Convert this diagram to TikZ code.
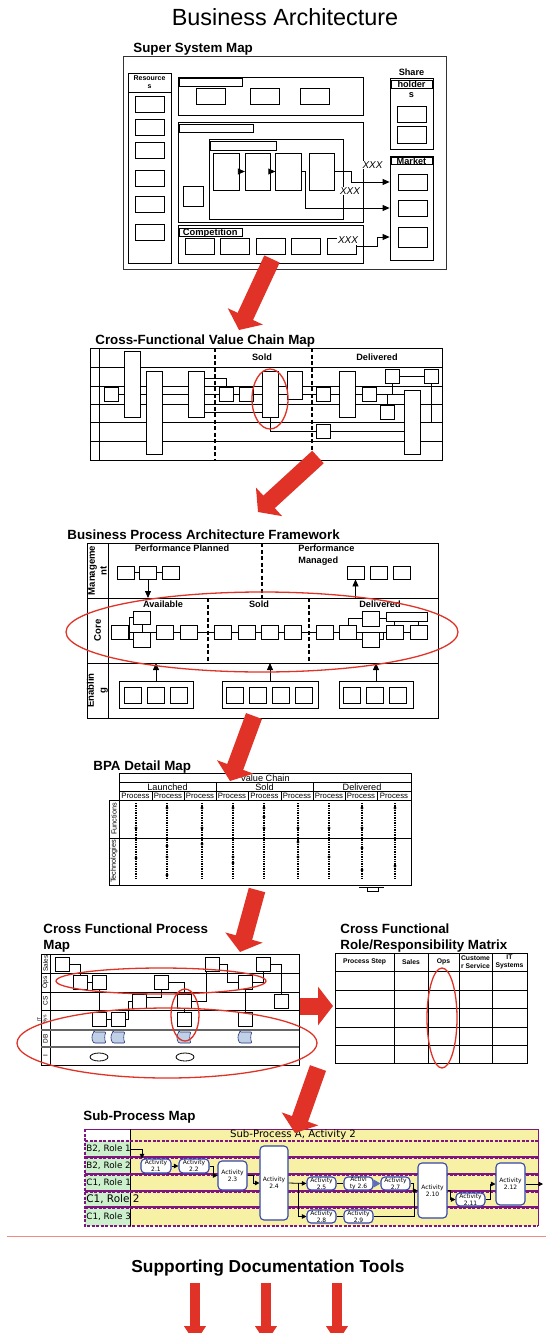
\documentclass[tikz,border=0pt]{standalone}
\usepackage{fontspec}
\setmainfont{Liberation Sans}
\newfontfamily\verdana{DejaVu Sans}
\usetikzlibrary{arrows.meta, positioning, backgrounds}

\definecolor{bigred}{RGB}{224,50,38}
\definecolor{lanepurple}{RGB}{128,20,128}
\definecolor{laneyellow}{RGB}{247,241,166}
\definecolor{rolegreen}{RGB}{204,240,204}
\definecolor{actblue}{RGB}{52,72,170}
\definecolor{dbblue}{RGB}{192,208,230}
\definecolor{rulepink}{RGB}{240,140,130}

\begin{document}
\begin{tikzpicture}[
        x=1bp, y=-1bp,
        line width=0.8bp,
        bx/.style args={#1x#2}{draw, fill=white, inner sep=0pt, minimum width=#1bp, minimum height=#2bp},
        maptitle/.style={font=\bfseries\fontsize{13.4}{15.5}\selectfont, inner sep=0pt, anchor=base west},
        tag/.style={font=\bfseries\fontsize{9.2}{12}\selectfont, inner sep=0pt},
        lbl/.style={font=\fontsize{9.2}{10}\selectfont, inner sep=0pt},
        xxx/.style={font=\itshape\fontsize{10}{10}\selectfont, fill=white, inner sep=0.6bp},
        lane/.style={font=\bfseries\fontsize{9.6}{12}\selectfont, inner sep=0pt, rotate=90, align=center},
        ring/.style={draw=bigred, line width=1.3bp},
        bigarrow/.style={bigred, line width=17bp, -{Triangle[width=38bp, length=15bp]}},
        arr/.style={-{Triangle[length=7bp, width=6bp]}},
        sarr/.style={-{Triangle[length=4.5bp, width=4.5bp]}},
        divider/.style={line width=1.3bp, dash pattern=on 4bp off 2.5bp},
        chainline/.style={line width=1.6bp, dash pattern=on 1bp off 0.7bp},
        act/.style args={#1x#2}{draw=actblue, fill=white, rounded corners=4bp, line width=1.1bp, inner sep=0pt, minimum width=#1bp, minimum height=#2bp, font=\verdana\fontsize{6}{7}\selectfont, align=center},
        role/.style={font=\verdana\fontsize{8.8}{9}\selectfont, inner sep=0pt, anchor=west}
    ]
    \useasboundingbox (0,0) rectangle (546,1333);

    \node[font=\fontsize{23.5}{28}\selectfont, anchor=base] (title) at (285,26) {Business Architecture};

    % super system map
    \node[maptitle] (ssmtitle) at (133,53) {Super System Map};
    \draw[line width=0.9bp, black!80] (123,56) rectangle (446,269);
    \draw (128,73) rectangle (171,263);
    \node[bx=43x19, font=\bfseries\fontsize{7}{8}\selectfont, align=center] (res) at (149.5,82.5) {Resource\\s};
    \foreach \y [count=\i] in {104,127.5,150,178.5,204,232}
        \node[bx=29x16] (ssr\i) at (149.5,\y) {};
    \draw (178,77) rectangle (363,115);
    \node[bx=63x8, anchor=north west] (toptag) at (179,78) {};
    \foreach \x [count=\i] in {210.5,264.5,314.5}
        \node[bx=29x16] (sst\i) at (\x,96) {};
    \draw (178,122) rectangle (363,222);
    \node[bx=74x8, anchor=north west] (midtag) at (179,124) {};
    \draw (209,139) rectangle (343,219);
    \node[bx=66x9, anchor=north west] (innertag) at (210,141) {};
    \node[bx=20x20] (ssbox) at (193,196) {};
    \foreach \x [count=\i] in {226.5,258,288.5,322}
        \node[bx=25.5x37] (ssp\i) at (\x,171.5) {};
    \draw[arr] (ssp1) -- (ssp2);
    \draw[arr] (ssp2) -- (ssp3);
    \draw (178,225) rectangle (363,263);
    \node[bx=63x8, anchor=north west] (comptag) at (179,228) {};
    \node[font=\bfseries\fontsize{9.4}{9.4}\selectfont, inner sep=0pt, anchor=base west] (complbl) at (182.5,235.6) {Competition};
    \foreach \x [count=\i] in {199.5,234.5,270.5,305.5,341.5}
        \node[bx=29x16] (ssc\i) at (\x,246) {};
    \draw (390,78) rectangle (433,149);
    \node[bx=41x8, anchor=north west] (shtag) at (391,80) {};
    \node[tag, anchor=base] (share) at (411.5,75.5) {Share};
    \node[tag, anchor=base] (holder) at (411.5,87.3) {holder};
    \node[tag, anchor=base] (shs) at (411.5,98) {s};
    \node[bx=29x16] (sh1) at (411.5,114) {};
    \node[bx=29x17] (sh2) at (411.5,134.5) {};
    \draw (390,156) rectangle (433,260);
    \node[bx=41x7, anchor=north west] (mkttag) at (391,157) {};
    \node[tag, anchor=base] (mktlbl) at (411.5,164.3) {Market};
    \node[bx=29x16] (mk1) at (412.5,182) {};
    \node[bx=29x16] (mk2) at (412.5,208) {};
    \node[bx=29x20] (mk3) at (412.5,237) {};
    \draw[arr, shorten >=8bp] (ssp4.east) -- ++(16,0) |- (mk1.west);
    \draw[arr, shorten >=8bp] (ssp3.east) -- ++(4,0) |- (mk2.west);
    \draw[arr, shorten >=8bp] (ssc5.east) -- ++(21,0) |- (mk3.west);
    \node[xxx] (xxx1) at (372.5,165) {XXX};
    \node[xxx] (xxx2) at (350,191) {XXX};
    \node[xxx] (xxx3) at (348,240.5) {XXX};

    % value chain map
    \node[maptitle] (vctitle) at (95,344) {Cross-Functional Value Chain Map};
    \draw (90,348) rectangle (442,460);
    \foreach \y in {367,386,404,422,441}
        \draw (90,\y) -- (442,\y);
    \draw (99,348) -- (99,460);
    \draw[divider] (215,348) -- (215,460);
    \draw[divider] (312,348) -- (312,460);
    \node[tag, anchor=base] (vcsold) at (262,360) {Sold};
    \node[tag, anchor=base] (vcdel) at (377,360) {Delivered};
    \node[bx=14x14] (vc1) at (111,394) {};
    \node[bx=16x66] (vc2) at (132,384) {};
    \node[bx=16x83] (vc3) at (154,412.5) {};
    \node[bx=16x46] (vc4) at (196,394) {};
    \node[bx=14x14] (vc5) at (226,394) {};
    \node[bx=14x14] (vc6) at (246.5,394) {};
    \node[bx=16x46] (vc7) at (270,394) {};
    \node[bx=15x28] (vc8) at (294.5,385) {};
    \node[bx=14x14] (vc9) at (323.5,394) {};
    \node[bx=16x46] (vc10) at (347,394) {};
    \node[bx=14x14] (vc11) at (369.5,394) {};
    \node[bx=14x14] (vc12) at (392.5,376) {};
    \node[bx=14x14] (vc13) at (431,376) {};
    \node[bx=14x14] (vc14) at (387.5,412.5) {};
    \node[bx=14x14] (vc15) at (323.5,431) {};
    \node[bx=16x64] (vc16) at (412,422) {};
    \begin{scope}[on background layer]
        \draw (vc1.east) -- (vc1.east -| vc16.west);
    \end{scope}
    \draw ([yshift=16bp]vc4.east) -| (vc5.north);
    \draw ([yshift=-18bp]vc4.east) -- ([yshift=-18bp]vc7.west);
    \draw (vc7.south) |- (vc15.west);
    \draw (vc15.east) -- (vc15.east -| vc16.west);
    \draw (vc12.east) -- (vc13.west);
    \draw (vc12.south) -- (vc12.south |- vc11.east);
    \draw (vc14.north) -- (vc14.north |- vc11.east);
    \draw (vc13.south) |- (vc16.east);
    \draw[ring] (270,399) ellipse [x radius=18, y radius=30];

    % business process architecture framework
    \node[maptitle] (bpatitle) at (67,539) {Business Process Architecture Framework};
    \draw (87,543) rectangle (438,718);
    \draw (108,543) -- (108,718);
    \draw (87,598) -- (438,598);
    \draw (87,663) -- (438,663);
    \node[lane] (mgmtlane) at (97.5,570.5) {Manageme\\nt};
    \node[lane] (corelane) at (97.5,630.5) {Core};
    \node[lane] (enablane) at (97.5,690.5) {Enablin\\g};
    \draw[divider] (262,543) -- (262,598);
    \draw[divider] (208,598) -- (208,663);
    \draw[divider] (309,598) -- (309,663);
    \node[tag, anchor=base] (ppl) at (182,551) {Performance Planned};
    \node[tag, anchor=north west, align=left] (pma) at (298,544) {Performance\\Managed};
    \foreach \x [count=\i] in {125.5,148,170.5,355.5,378.5,402}
        \node[bx=17x13] (mg\i) at (\x,572.5) {};
    \draw (mg1) -- (mg2);
    \draw (mg2) -- (mg3);
    \coordinate (mgdown) at (148,598);
    \coordinate (mgup) at (355.5,598);
    \draw[arr] (mg2) -- (mgdown);
    \draw[arr] (mgup) -- (mg4);
    \node[tag, anchor=base] (avail) at (163,607.5) {Available};
    \node[tag, anchor=base] (coresold) at (259,607.5) {Sold};
    \node[tag, anchor=base] (coredel) at (380,607.5) {Delivered};
    \foreach \x [count=\i] in {119.5,165,188.5,223,246.5,269.5,292.5,324.5,348,394.5,418.5}
        \node[bx=17x14] (cr\i) at (\x,632) {};
    \node[bx=17x13] (crA) at (142,617.5) {};
    \node[bx=17x15] (crB) at (142,639.5) {};
    \node[bx=17x15] (crC) at (370.5,618.5) {};
    \node[bx=17x15] (crD) at (370.5,639.5) {};
    \node[bx=41x9] (crE) at (406.5,616.5) {};
    \begin{scope}[on background layer]
        \draw (cr1.east) -- (cr1.east -| cr11.west);
    \end{scope}
    \draw (crA.west) -- ++(-3.5,0) |- (crB.west);
    \draw (crA.south) -- (crB.north);
    \draw (cr9.north) |- (crC.west);
    \draw (cr9.south) |- (crD.west);
    \draw (crC.east) -- (crC.east -| crE.west);
    \draw (crD.east) -- ++(4,0) |- (cr10.west);
    \draw (cr10.north) -- (cr10.north |- crE.south);
    \draw (cr11.north) -- (cr11.north |- crE.south);
    \node[bx=74x27] (en1) at (156,694.5) {};
    \node[bx=96x27] (en2) at (270,694.5) {};
    \node[bx=74x27] (en3) at (376,694.5) {};
    \foreach \x [count=\i] in {133,156,179,234.5,257.5,280.5,303.5,352,375,398}
        \node[bx=17x16] (enb\i) at (\x,695) {};
    \coordinate (enrow) at (0,663);
    \foreach \i in {1,2,3}
        \draw[arr] (en\i.north) -- (en\i.north |- enrow);
    \draw[ring] (262,632) ellipse [x radius=196, y radius=40];

    % BPA detail map
    \node[maptitle] (dettitle) at (93,770) {BPA Detail Map};
    \draw (119,773) rectangle (411,800);
    \draw (119,782) -- (411,782);
    \draw (119,791) -- (411,791);
    \draw (109,800) rectangle (411,885);
    \draw (119,800) -- (119,885);
    \draw (109,838) -- (411,838);
    \draw (216,782) -- (216,791);
    \draw (313,782) -- (313,791);
    \foreach \x in {152,184,216,248,281,313,345,377}
        \draw (\x,791) -- (\x,800);
    \node[lbl, anchor=base] (vchain) at (265,781) {Value Chain};
    \node[lbl, anchor=base] (launched) at (167.5,790) {Launched};
    \node[lbl, anchor=base] (detsold) at (264.5,790) {Sold};
    \node[lbl, anchor=base] (detdel) at (362,790) {Delivered};
    \foreach \x [count=\i] in {135.5,168,200,232,264.5,297,329,361,394}
        \node[font=\fontsize{7.8}{8}\selectfont, inner sep=0pt, anchor=base] (proc\i) at (\x,798.5) {Process};
    \node[font=\fontsize{7.3}{8}\selectfont, inner sep=0pt, rotate=90] (funclbl) at (114,819) {Functions};
    \node[font=\fontsize{7.3}{8}\selectfont, inner sep=0pt, rotate=90] (techlbl) at (114,861.5) {Technologies};
    \foreach \x in {136,167,202,233,264,298,329,362,395}
        \draw[chainline] (\x,803) -- (\x,878);
    \foreach \x/\y in {136/828,136/858,167/808,167/846,167/857,167/875,202/808,202/828,202/844,233/808,233/857,233/863,264/808,264/817,264/828,298/828,298/842,298/857,329/828,329/857,362/808,362/828,362/848,362/870,395/808,395/866}
        \fill (\x,\y) circle [radius=1.6];
    \draw (359,887) -- (384,887);
    \draw (367,887) |- (378,891) -- (378,887);

    % cross functional process map
    \node[maptitle, anchor=north west, align=left] (cfpmtitle) at (43,923.5) {Cross Functional Process\\Map};
    \draw (41,954) rectangle (299,1065);
    \draw (50,954) -- (50,1065);
    \foreach \y in {973,992,1010}
        \draw (41,\y) -- (299,\y);
    \foreach \y in {1030,1047}
        \draw[line width=1.4bp, black!60] (41,\y) -- (299,\y);
    \foreach \y/\t [count=\i] in {963.5/Sales,982.5/Ops,1001/CS,1038.5/DB,1056/I}
        \node[font=\fontsize{6.5}{7}\selectfont, inner sep=0pt, rotate=90] (cfl\i) at (45.5,\y) {\t};
    \node[font=\fontsize{5}{5.5}\selectfont, inner sep=0pt, rotate=90, align=center] (cfit) at (42.5,1019.5) {IT\\Sys};
    \foreach \n/\x/\y in {sa1/62/964,sa2/212/964,sa3/263/964,op1/80/982.5,op2/99/982.5,op3/161/982.5,op4/245/982.5,cs1/139/1001,cs2/184/1001,cs3/281/1001,it1/99/1019.5,it2/118/1019.5,it3/184/1019.5,it4/245/1019.5}
        \node[bx=14x14] (\n) at (\x,\y) {};
    \draw (sa1.east) -| (op1.north);
    \draw (op1) -- (op2);
    \draw (op2) -- (it1);
    \draw (it1) -- (it2);
    \draw (it2.east) -- ++(3,0) |- (cs1.west);
    \draw ([yshift=4bp]cs1.east) -| (op3.south);
    \draw (op3.east) -| (cs2.north);
    \draw (cs2) -- (it3);
    \draw (cs2.east) -| ([xshift=-6bp]sa2.south);
    \draw (sa2.east) -- ++(8,0) |- (op4.west);
    \draw (op4) -- (it4);
    \draw (op4.east) -| (sa3.south);
    \draw (sa3.east) -| (cs3.north);
    \foreach \x in {99,118,184,245}
        \draw[draw=actblue!70!black, fill=dbblue, line width=0.6bp, rounded corners=1bp] (\x-5,1032) -- (\x+7,1032) .. controls (\x+5.5,1035) and (\x+5.5,1040) .. (\x+7,1043) -- (\x-5,1043) .. controls (\x-7.5,1040) and (\x-7.5,1035) .. (\x-5,1032) -- cycle;
    \draw (99,1057) ellipse [x radius=9, y radius=4];
    \draw (185,1057) ellipse [x radius=9, y radius=4];
    \draw[ring] (161,981) ellipse [x radius=105, y radius=13];
    \draw[ring] (185,1015) ellipse [x radius=14, y radius=26];
    \draw[ring] (167,1043) ellipse [x radius=150, y radius=35];

    % role / responsibility matrix
    \node[maptitle, anchor=north west, align=left] (rrmtitle) at (340,923.5) {Cross Functional\\Role/Responsibility Matrix};
    \draw (335,953) rectangle (527,1063);
    \foreach \x in {394,428,459,492}
        \draw (\x,953) -- (\x,1063);
    \foreach \y in {971,990,1008,1027,1045}
        \draw (335,\y) -- (527,\y);
    \foreach \x/\t [count=\i] in {364.5/Process Step,411/Sales,443.5/Ops,475.5/Custome\\r Service,509.5/IT\\Systems}
        \node[font=\bfseries\fontsize{6.8}{8.3}\selectfont, inner sep=0pt, align=center] (rrh\i) at (\x,962) {\t};
    \draw[ring] (442,1018) ellipse [x radius=15, y radius=50];

    % sub-process map
    \node[maptitle] (sptitle) at (83,1120) {Sub-Process Map};
    \fill[laneyellow] (130,1129) rectangle (538,1226);
    \fill[rolegreen] (85,1141) rectangle (130,1226);
    \draw[lanepurple] (85,1129) -- (538,1129) -- (538,1226);
    \draw[lanepurple, line width=1.4bp, dash pattern=on 3bp off 1.5bp] (85,1129) -- (85,1226) -- (538,1226);
    \draw[line width=1bp] (130,1129) -- (130,1226);
    \draw[lanepurple, line width=1.4bp, dash pattern=on 3bp off 1.5bp] (85,1141) -- (538,1141);
    \foreach \y in {1157,1174,1191,1207} {
        \draw[lanepurple, line width=1.2bp] (85,\y) -- (538,\y);
        \draw[lanepurple, line width=1bp, dash pattern=on 3bp off 1.5bp] (85,\y+1.8) -- (538,\y+1.8);
    }
    \node[font=\verdana\fontsize{10.2}{11}\selectfont, inner sep=0pt] (sphead) at (293,1135) {Sub-Process A, Activity 2};
    \node[role] (role1) at (86,1149) {B2, Role 1};
    \node[role] (role2) at (86,1165.5) {B2, Role 2};
    \node[role] (role3) at (86,1182.5) {C1, Role 1};
    \node[role, font=\verdana\fontsize{10.5}{11}\selectfont] (role4) at (86,1199) {C1, Role 2};
    \node[role] (role5) at (86,1216.5) {C1, Role 3};
    \node[act=30x14] (a21) at (156,1166) {Activity\\2.1};
    \node[act=30x14] (a22) at (194,1166) {Activity\\2.2};
    \node[act=29x29] (a23) at (232.5,1175.5) {Activity\\2.3};
    \node[act=28x74] (a24) at (274,1183) {Activity\\2.4};
    \node[act=29x13] (a25) at (321.5,1183.5) {Activity\\2.5};
    \node[act=29x13] (a26) at (358.5,1183.5) {Activi\\ty 2.6};
    \node[act=29x13] (a27) at (395.5,1183.5) {Activity\\2.7};
    \node[act=29x13] (a28) at (321.5,1216.5) {Activity\\2.8};
    \node[act=29x13] (a29) at (358.5,1216.5) {Activity\\2.9};
    \node[act=29x55] (a210) at (432.5,1190.5) {Activity\\2.10};
    \node[act=29x13] (a211) at (470.5,1199.5) {Activity\\2.11};
    \node[act=29x42] (a212) at (510.5,1184) {Activity\\2.12};
    \coordinate (spout) at (543,1184);
    \draw[sarr] (role1.east) -| ([xshift=-14bp]a21.north);
    \draw[sarr] (a21) -- (a22);
    \draw[sarr] (a22.east) -- ++(4,0) |- (a23.west);
    \draw[sarr] (a23.east) -- ++(6,0) |- (a24.west);
    \draw[sarr] (a24.east) -- (a25.west);
    \draw[sarr] ([xshift=10bp]a24.east) |- (a28.west);
    \draw (a25) -- (a26);
    \draw[actblue!80, -{Triangle[length=7bp, width=8bp]}] (a26) -- (a27);
    \draw[sarr] (a27.east) -- ++(3,0) |- (a210.west);
    \draw (a28) -- (a29);
    \draw (a29.east) -| ([xshift=-3bp]a210.west);
    \draw[sarr] (a210.east) -- ++(3,0) |- (a211.west);
    \draw[sarr] (a211.east) -- ++(5,0) |- (a212.west);
    \draw[sarr] (a212.east) -- (spout);

    % supporting tools
    \draw[rulepink, line width=1bp] (7,1236) -- (546,1236);
    \node[font=\bfseries\fontsize{17.4}{20}\selectfont, anchor=base] (sdt) at (268,1272) {Supporting Documentation Tools};
    \foreach \x [count=\i] in {195,266,337} {
        \coordinate (down\i) at (\x,1283);
        \coordinate (downend\i) at (\x,1343);
        \draw[bigred, line width=10bp, -{Triangle[width=21bp, length=17bp]}] (down\i) -- (downend\i);
    }

    % red arrows between the maps
    \foreach \i/\xa/\ya/\xb/\yb in {1/272/259/239/330, 2/318/457/258/512, 3/254/716/230/781, 4/257/890/240/952, 5/300/1006/333/1006, 6/318/1068/295/1133} {
        \coordinate (from\i) at (\xa,\ya);
        \coordinate (to\i) at (\xb,\yb);
        \draw[bigarrow] (from\i) -- (to\i);
    }
\end{tikzpicture}
\end{document}
